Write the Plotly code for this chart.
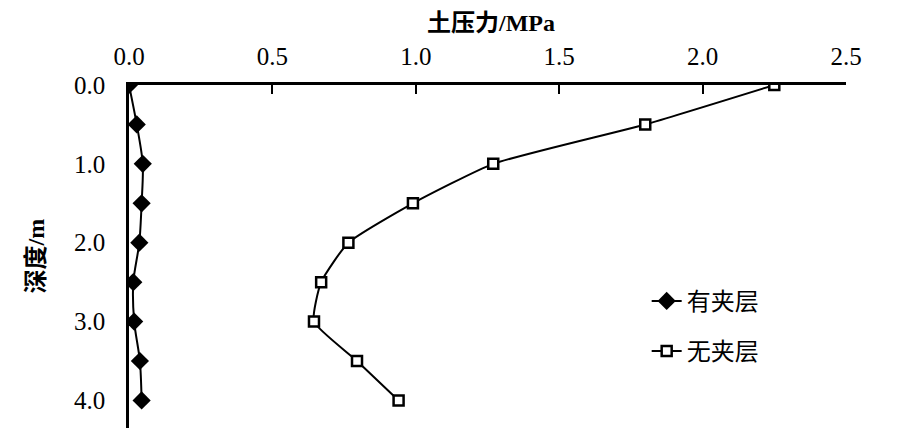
import plotly.graph_objects as go

depth = [0.0, 0.5, 1.0, 1.5, 2.0, 2.5, 3.0, 3.5, 4.0]
with_layer = [0.0, 0.027, 0.048, 0.044, 0.036, 0.015, 0.018, 0.038, 0.044]
without_layer = [2.25, 1.80, 1.27, 0.99, 0.765, 0.67, 0.645, 0.795, 0.94]
x_ticks = [0.0, 0.5, 1.0, 1.5, 2.0, 2.5]
y_ticks = [0.0, 1.0, 2.0, 3.0, 4.0]

serif = "Liberation Serif"
cjk = "Noto Sans CJK SC"

fig = go.Figure()
fig.add_trace(go.Scatter(
    x=with_layer, y=depth, name="有夹层", mode="lines+markers", legendgroup="a",
    line=dict(color="black", width=2, shape="spline", smoothing=0.8),
    marker=dict(symbol="diamond", size=14, color="black"),
))
fig.add_trace(go.Scatter(
    x=without_layer, y=depth, name="无夹层", mode="lines+markers", legendgroup="b",
    line=dict(color="black", width=2, shape="spline", smoothing=0.5),
    marker=dict(symbol="square", size=10, color="white", line=dict(color="black", width=2.5)),
))

fig.update_layout(
    width=905, height=447,
    margin=dict(l=121, r=67, t=77, b=27),
    paper_bgcolor="white", plot_bgcolor="white",
    showlegend=True,
    legend=dict(x=0.722, y=0.435, xanchor="left", yanchor="top",
                font=dict(family=cjk, size=24, color="black"),
                bgcolor="rgba(0,0,0,0)", tracegroupgap=16,
                traceorder="grouped"),
    xaxis=dict(side="top", range=[0, 2.5], tickvals=x_ticks, tickformat=".1f",
               showline=True, linecolor="black", linewidth=2.5,
               ticks="inside", ticklen=9, tickwidth=2, tickcolor="black",
               showgrid=False, zeroline=False, ticklabelstandoff=7,
               tickfont=dict(family=serif, size=25, color="black")),
    yaxis=dict(range=[4.35, 0], tickvals=y_ticks, tickformat=".1f",
               showline=True, linecolor="black", linewidth=2.5,
               ticks="", showgrid=False, zeroline=False,
               ticklabelstandoff=16,
               tickfont=dict(family=serif, size=25, color="black")),
    annotations=[
        dict(text="<b>土压力/MPa</b>", xref="paper", yref="paper", x=0.505, y=1.0,
             yshift=62, xanchor="center", yanchor="middle", showarrow=False,
             font=dict(family=serif + ", " + cjk, size=24, color="black")),
        dict(text="<b>深度/m</b>", xref="paper", yref="paper", x=0, xshift=-94, y=0.50,
             textangle=-90, xanchor="center", yanchor="middle", showarrow=False,
             font=dict(family=serif + ", " + cjk, size=24, color="black")),
    ],
)

fig.write_html("out.html")
